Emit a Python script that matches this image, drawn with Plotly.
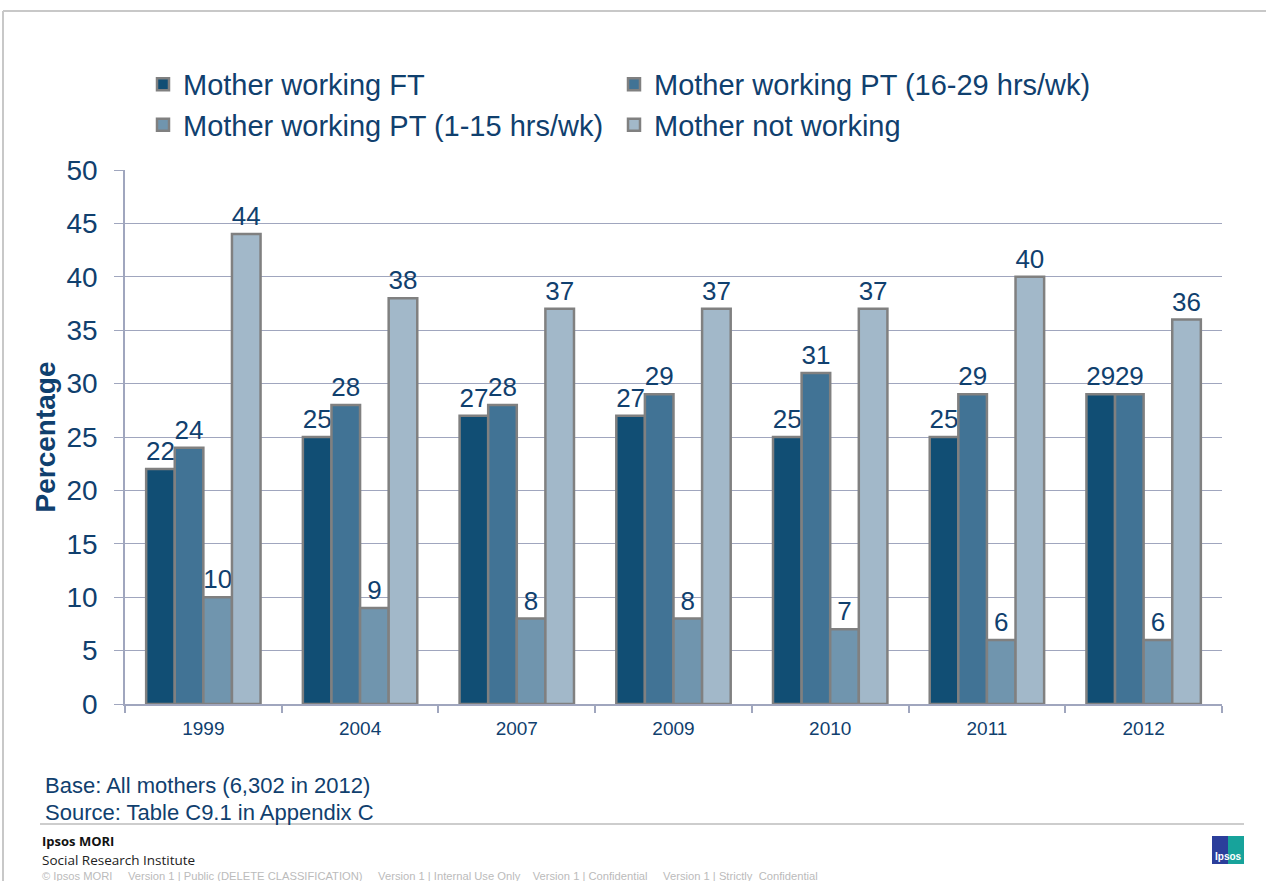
import plotly.graph_objects as go

years = ["1999", "2004", "2007", "2009", "2010", "2011", "2012"]
series_names = [
    "Mother working FT",
    "Mother working PT (16-29 hrs/wk)",
    "Mother working PT (1-15 hrs/wk)",
    "Mother not working",
]
ft = [22, 25, 27, 27, 25, 25, 29]
pt_16_29 = [24, 28, 28, 29, 31, 29, 29]
pt_1_15 = [10, 9, 8, 8, 7, 6, 6]
not_working = [44, 38, 37, 37, 37, 40, 36]
y_ticks = [0, 5, 10, 15, 20, 25, 30, 35, 40, 45, 50]

colors = ["#114E74", "#417395", "#7095AE", "#A2B8C9"]
legend_ids = ["legend", "legend2", "legend", "legend2"]
NAVY = "#10406E"
GRID = "#A0A6BE"
FONT = "Liberation Sans, Arial, sans-serif"

W, H = 1266, 881
L, R, T, B = 125, 44, 170, 177
PW, PH = W - L - R, H - T - B


def px_x(x):
    return (x - L) / PW


def px_y(y):
    return (H - B - y) / PH


fig = go.Figure()
for name, vals, col, lg in zip(series_names, [ft, pt_16_29, pt_1_15, not_working], colors, legend_ids):
    fig.add_trace(go.Bar(
        x=years, y=vals, name=name, legend=lg,
        marker=dict(color=col, line=dict(color="#808080", width=2.5)),
        text=[str(v) for v in vals], textposition="outside",
        constraintext="none", cliponaxis=False,
        textfont=dict(family=FONT, size=26, color=NAVY),
    ))

legend_common = dict(
    orientation="v", yanchor="bottom", y=1.036, xref="paper",
    font=dict(family=FONT, size=29, color=NAVY),
    itemclick=False, bgcolor="rgba(0,0,0,0)", tracegroupgap=0,
)

fig.update_layout(
    width=W, height=H,
    paper_bgcolor="white", plot_bgcolor="white",
    margin=dict(l=L, r=R, t=T, b=B),
    barmode="group", bargap=0.27, bargroupgap=0,
    font=dict(family=FONT, color=NAVY),
    showlegend=True,
    legend=dict(x=px_x(143), **legend_common),
    legend2=dict(x=px_x(614), **legend_common),
    xaxis=dict(
        type="category", showgrid=False,
        showline=True, linecolor=GRID, linewidth=1.5,
        ticks="outside", tickson="boundaries", ticklen=7, tickcolor=GRID, tickwidth=1.5,
        tickfont=dict(family=FONT, size=19, color=NAVY),
        ticklabelstandoff=6,
    ),
    yaxis=dict(
        range=[0, 50], tickvals=y_ticks,
        showgrid=True, gridcolor=GRID, gridwidth=1.3,
        showline=True, linecolor=GRID, linewidth=1.5,
        ticks="outside", ticklen=9, tickcolor=GRID, tickwidth=1.3,
        tickfont=dict(family=FONT, size=28, color=NAVY),
        ticklabelstandoff=11,
        zeroline=False,
        title=dict(text="<b>Percentage</b>", font=dict(family=FONT, size=28, color=NAVY), standoff=3),
    ),
)

# page frame lines
fig.add_shape(type="line", xref="paper", yref="paper", x0=px_x(3), x1=px_x(W),
              y0=px_y(11), y1=px_y(11), line=dict(color="#C8C8C8", width=2))
fig.add_shape(type="line", xref="paper", yref="paper", x0=px_x(3), x1=px_x(3),
              y0=px_y(11), y1=px_y(H), line=dict(color="#C8C8C8", width=2))
# separator line above footer
fig.add_shape(type="line", xref="paper", yref="paper", x0=px_x(40), x1=px_x(1244),
              y0=px_y(824), y1=px_y(824), line=dict(color="#BDBDBD", width=1.5))

notes = [
    ("Base: All mothers (6,302 in 2012)", 43, 785, 22, NAVY, FONT),
    ("Source: Table C9.1 in Appendix C", 43, 812, 22, NAVY, FONT),
    ("<b>Ipsos MORI</b>", 40, 841, 13, "#111111", "Open Sans, sans-serif"),
    ("Social Research Institute", 40, 860, 13.5, "#222222", "Open Sans, sans-serif"),
    ("© Ipsos MORI     Version 1 | Public (DELETE CLASSIFICATION)     Version 1 | Internal Use Only    "
     "Version 1 | Confidential     Version 1 | Strictly  Confidential", 40, 876, 11.2, "#BBBBBB", FONT),
]
for txt, x, y, s, c, f in notes:
    fig.add_annotation(text=txt, xref="paper", yref="paper", x=px_x(x), y=px_y(y),
                       xanchor="left", yanchor="middle", showarrow=False,
                       font=dict(size=s, color=c, family=f))

# Ipsos logo
fig.add_shape(type="rect", xref="paper", yref="paper", x0=px_x(1212), x1=px_x(1228),
              y0=px_y(864), y1=px_y(836), fillcolor="#2B3E9B", line=dict(width=0), layer="below")
fig.add_shape(type="rect", xref="paper", yref="paper", x0=px_x(1228), x1=px_x(1244),
              y0=px_y(864), y1=px_y(836), fillcolor="#17A39B", line=dict(width=0), layer="below")
fig.add_annotation(text="<b>Ipsos</b>", xref="paper", yref="paper", x=px_x(1228), y=px_y(856),
                   xanchor="center", yanchor="middle", showarrow=False,
                   font=dict(size=10, color="white", family=FONT))

fig.write_html("out.html", config={"displayModeBar": False},
               post_script="document.body.style.margin='0';")
